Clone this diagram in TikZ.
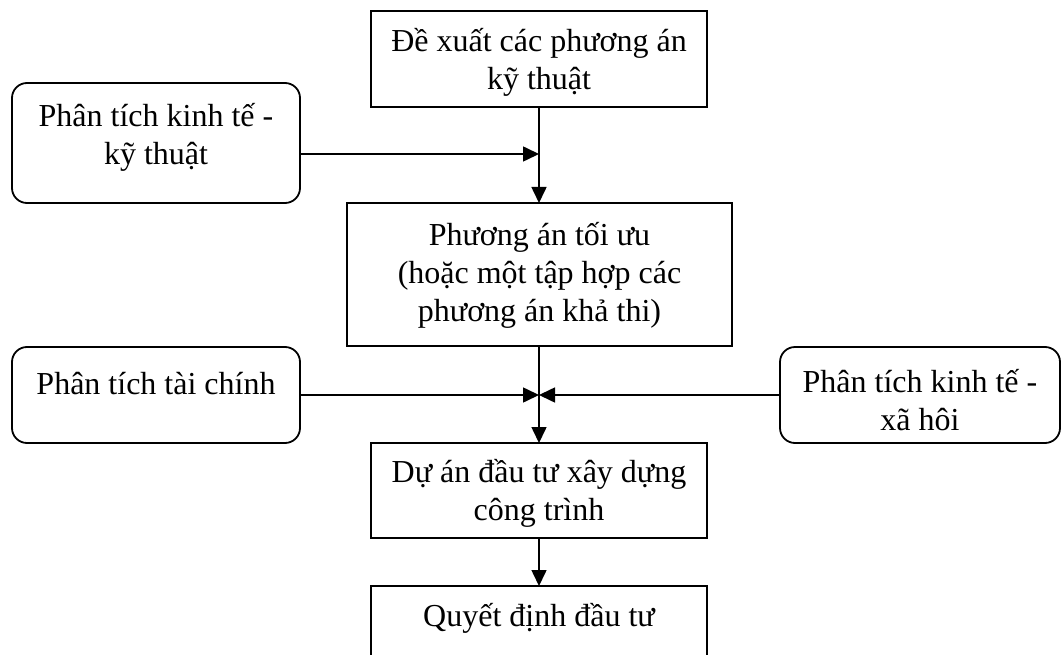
\documentclass[tikz,border=0pt]{standalone}
\usepackage{fontspec}
\setmainfont{Liberation Serif}
\usetikzlibrary{arrows.meta}
\begin{document}
\begin{tikzpicture}[x=1pt,y=-1pt,
  every node/.style={font=\fontsize{32}{38}\selectfont, inner sep=0pt, outer sep=0pt},
  box/.style={draw, line width=1.8pt},
  rbox/.style={box, rounded corners=15pt},
  txt/.style={align=center},
  arr/.style={line width=1.6pt, -{Triangle[length=16pt,width=15pt]}}
]
\clip (0,0) rectangle (1062,655);

% process boxes down the middle
\node[box, minimum width=336pt, minimum height=96pt] (top) at (539,59) {};
\node[txt] (top-t) at (539,62) {Đề xuất các phương án\\kỹ thuật};
\node[box, minimum width=385pt, minimum height=143pt] (mid) at (539.5,274.5) {};
\node[txt] (mid-t) at (539.5,275) {Phương án tối ưu\\(hoặc một tập hợp các\\phương án khả thi)};
\node[box, minimum width=336pt, minimum height=95pt] (proj) at (539,490.5) {};
\node[txt] (proj-t) at (539,493) {Dự án đầu tư xây dựng\\công trình};
\node[box, minimum width=336pt, minimum height=96pt] (dec) at (539,634) {};
\node[txt] (dec-t) at (539,618) {Quyết định đầu tư};

% analysis inputs at the sides
\node[rbox, minimum width=288pt, minimum height=120pt] (tech) at (156,143) {};
\node[txt] (tech-t) at (156,137) {Phân tích kinh tế -\\kỹ thuật};
\node[rbox, minimum width=288pt, minimum height=96pt] (fin) at (156,395) {};
\node[txt] (fin-t) at (156,384) {Phân tích tài chính};
\node[rbox, minimum width=280pt, minimum height=96pt] (soc) at (920,395) {};
\node[txt] (soc-t) at (920,400) {Phân tích kinh tế -\\xã hôi};

% junction points on the main flow line
\coordinate (j1) at (539,154);
\coordinate (j2) at (539,395);

\draw[arr] (top.south) -- (top.south |- mid.north);
\draw[arr] (tech.east |- j1) -- (j1);
\draw[arr] (proj.north |- mid.south) -- (proj.north);
\draw[arr] (fin.east) -- (j2);
\draw[arr] (soc.west) -- (j2);
\draw[arr] (proj.south) -- (dec.north);
\end{tikzpicture}
\end{document}
